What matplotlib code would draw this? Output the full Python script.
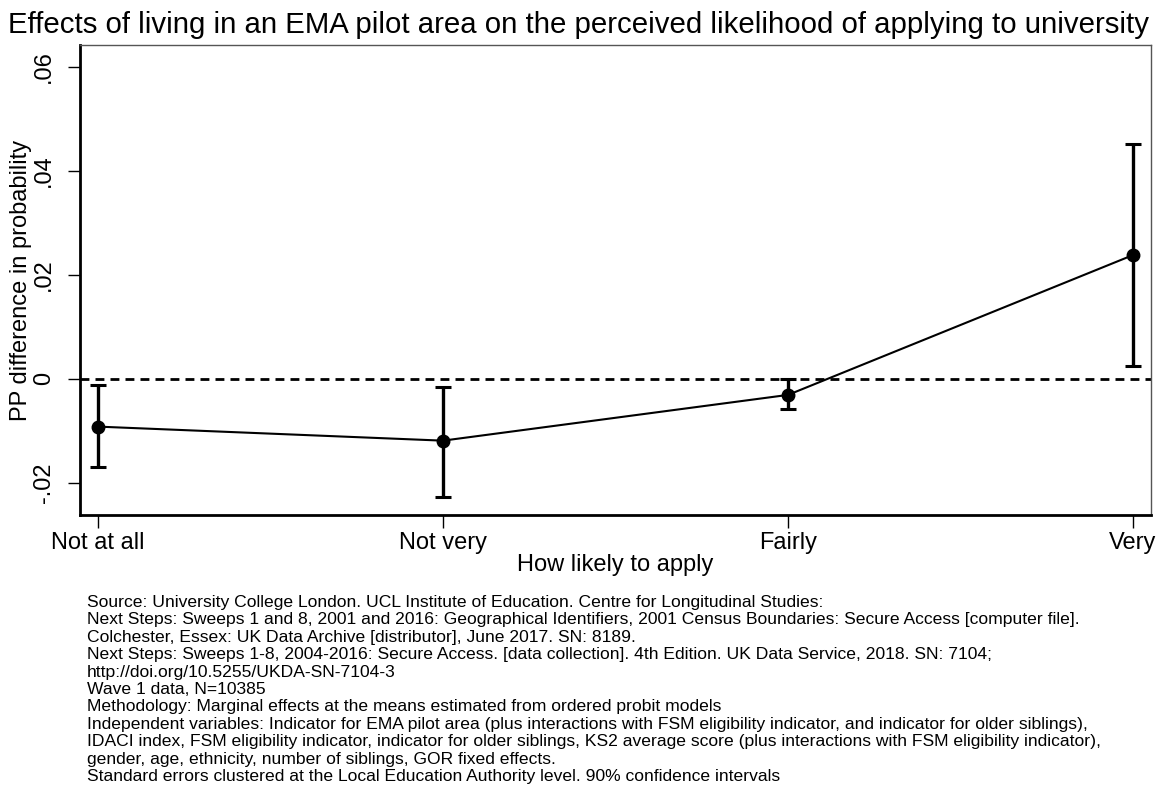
import matplotlib
matplotlib.use("Agg")
import matplotlib.pyplot as plt
from matplotlib.ticker import FuncFormatter

plt.rcParams['font.family'] = ['Liberation Sans', 'DejaVu Sans']

categories = ["Not at all", "Not very", "Fairly", "Very"]
effects = [-0.0092, -0.0119, -0.0031, 0.0238]
ci_lower = [-0.0169, -0.0227, -0.0058, 0.0025]
ci_upper = [-0.0012, -0.0015, 0.0000, 0.0452]
yticks = [-0.02, 0.0, 0.02, 0.04, 0.06]

title = "Effects of living in an EMA pilot area on the perceived likelihood of applying to university"
xlabel = "How likely to apply"
ylabel = "PP difference in probability"
notes = [
    "Source: University College London. UCL Institute of Education. Centre for Longitudinal Studies:",
    "Next Steps: Sweeps 1 and 8, 2001 and 2016: Geographical Identifiers, 2001 Census Boundaries: Secure Access [computer file].",
    "Colchester, Essex: UK Data Archive [distributor], June 2017. SN: 8189.",
    "Next Steps: Sweeps 1-8, 2004-2016: Secure Access. [data collection]. 4th Edition. UK Data Service, 2018. SN: 7104;",
    "http://doi.org/10.5255/UKDA-SN-7104-3",
    "Wave 1 data, N=10385",
    "Methodology: Marginal effects at the means estimated from ordered probit models",
    "Independent variables: Indicator for EMA pilot area (plus interactions with FSM eligibility indicator, and indicator for older siblings),",
    "IDACI index, FSM eligibility indicator, indicator for older siblings, KS2 average score (plus interactions with FSM eligibility indicator),",
    "gender, age, ethnicity, number of siblings, GOR fixed effects.",
    "Standard errors clustered at the Local Education Authority level. 90% confidence intervals",
]

W, H = 1163, 786
fig = plt.figure(figsize=(W / 100, H / 100), dpi=100)
ax = fig.add_axes([80 / W, 1 - 515 / H, (1151 - 80) / W, (515 - 45) / H])

x = list(range(len(categories)))
yerr = [[e - l for e, l in zip(effects, ci_lower)], [u - e for e, u in zip(effects, ci_upper)]]

ax.axhline(0, color="black", lw=2, ls=(0, (3.2, 2.2)), zorder=1)
ax.errorbar(x, effects, yerr=yerr, fmt="none", ecolor="black", elinewidth=2.4,
            capsize=5.5, capthick=2.2, zorder=2)
ax.plot(x, effects, color="black", lw=1.5, marker="o", markersize=9, zorder=3)

ax.set_xlim(-0.052, 3.052)
ax.set_ylim(-0.0262, 0.0642)
ax.set_xticks(x)
ax.set_xticklabels(categories, fontsize=17)
ax.set_yticks(yticks)
ax.yaxis.set_major_formatter(FuncFormatter(lambda v, p: "0" if abs(v) < 1e-12 else ("%.2f" % v).replace("0.", ".")))
for lab in ax.get_yticklabels():
    lab.set_rotation(90)
    lab.set_va("center")
    lab.set_fontsize(17)
ax.tick_params(axis="both", direction="out", length=9, width=1, colors="black", pad=3)
ax.tick_params(axis="y", pad=9)

for s in ["left", "bottom"]:
    ax.spines[s].set_linewidth(2)
    ax.spines[s].set_color("black")
for s in ["top", "right"]:
    ax.spines[s].set_linewidth(1)
    ax.spines[s].set_color("#555555")

ax.set_xlabel(xlabel, fontsize=17, labelpad=0)
ax.set_ylabel(ylabel, fontsize=17, labelpad=1)

fig.text(8 / W, 1 - 25 / H, title, fontsize=21.2, va="center", ha="left")

fig.text(87 / W, 1 - 595 / H, "\n".join(notes), fontsize=12.6, va="top", ha="left", linespacing=1.2)

fig.savefig("out.png", dpi=100, facecolor="white")
